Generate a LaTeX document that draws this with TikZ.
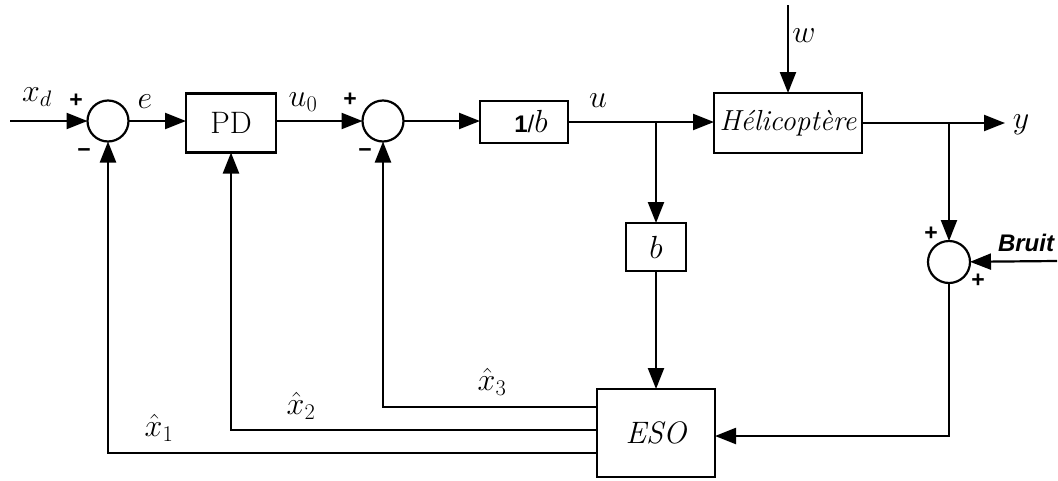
\RequirePackage{fix-cm}
\documentclass[tikz,border=0pt]{standalone}
\usepackage{fontspec}
\newfontfamily\arialf{Liberation Sans}
\usetikzlibrary{arrows.meta,calc}
\begin{document}
\begin{tikzpicture}[x=1pt,y=-1pt,
  every node/.style={inner sep=0pt,outer sep=0pt},
  blk/.style={draw,line width=2.2pt,fill=white},
  sumc/.style={draw,circle,line width=2.2pt,minimum size=41pt},
  arr/.style={line width=2.2pt,-{Triangle[length=21pt,width=16pt]}},
  lbl/.style={font=\fontsize{32}{34}\selectfont},
  sgn/.style={font=\arialf\bfseries\fontsize{23}{24}\selectfont}]
\useasboundingbox (0,0) rectangle (1058,480);
% blocks
\node[sumc] (c1) at (108,121) {};
\node[blk,minimum width=90pt,minimum height=59pt,font=\fontsize{31}{32}\selectfont] (pd) at (231,123) {PD};
\node[sumc] (c2) at (383,121) {};
\node[blk,minimum width=88pt,minimum height=42pt] (inv) at (524,122) {\hspace*{14pt}{\arialf\bfseries\fontsize{24}{26}\selectfont 1}{\arialf\fontsize{24}{26}\selectfont /}{\fontsize{32}{34}\selectfont$b$}};
\node[blk,minimum width=148pt,minimum height=60pt,font=\fontsize{29}{30}\selectfont\itshape] (heli) at (788,123) {Hélicoptère};
\node[blk,minimum width=60pt,minimum height=48pt,lbl] (b) at (656,247) {$b$};
\node[sumc,minimum size=42pt] (c3) at (949,262) {};
\node[blk,minimum width=118pt,minimum height=88pt,font=\fontsize{31}{32}\selectfont\itshape] (eso) at (656,433) {ESO};
% coordinates
\coordinate (in) at (10,121);
\coordinate (wtop) at (788,5);
\coordinate (yout) at (1005,123);
\coordinate (bruit) at (1057,261);
\coordinate (bu) at (b |- inv);
\coordinate (by) at (c3 |- heli);
\coordinate (y3) at (0,407);
\coordinate (y2) at (0,430);
\coordinate (y1) at (0,453);
\coordinate (yin) at (0,436);
% connectors
\draw[arr] (in) -- (c1);
\draw[arr] (c1) -- (pd.west |- c1);
\draw[arr] (pd.east |- c2) -- (c2);
\draw[arr] (c2) -- (inv.west |- c2);
\draw[arr] (inv) -- (heli.west |- inv);
\draw[arr] (heli) -- (yout);
\draw[arr] (wtop) -- (heli);
\draw[arr] (bu) -- (b);
\draw[arr] (b) -- (eso);
\draw[arr] (by) -- (c3);
\draw[arr] (bruit) -- (c3);
\draw[arr] (c3) |- (eso.east |- yin);
\draw[arr] (eso.west |- y3) -| (c2);
\draw[arr] (eso.west |- y2) -| (pd);
\draw[arr] (eso.west |- y1) -| (c1);
% labels
\node[lbl] (lxd) at (37,97) {$x_d$};
\node[lbl] (le) at (145,102) {$e$};
\node[lbl] (lu0) at (303,102) {$u_0$};
\node[lbl] (lu) at (598,101) {$u$};
\node[lbl] (lw) at (804,36) {$w$};
\node[lbl] (ly) at (1021,125) {$y$};
\node[lbl] (lx3) at (492,382) {$\hat{x}_3$};
\node[lbl] (lx2) at (301,406) {$\hat{x}_2$};
\node[lbl] (lx1) at (159,428) {$\hat{x}_1$};
\node[font=\arialf\bfseries\itshape\fontsize{24}{26}\selectfont] (lbr) at (1026,243) {Bruit};
\node[sgn] (p1) at (76,101) {+};
\node[sgn] (m1) at (84,153) {−};
\node[sgn] (p2) at (350,100) {+};
\node[sgn] (m2) at (365,153) {−};
\node[sgn] (p3) at (931,234) {+};
\node[sgn] (p4) at (978,281) {+};
\end{tikzpicture}
\end{document}
